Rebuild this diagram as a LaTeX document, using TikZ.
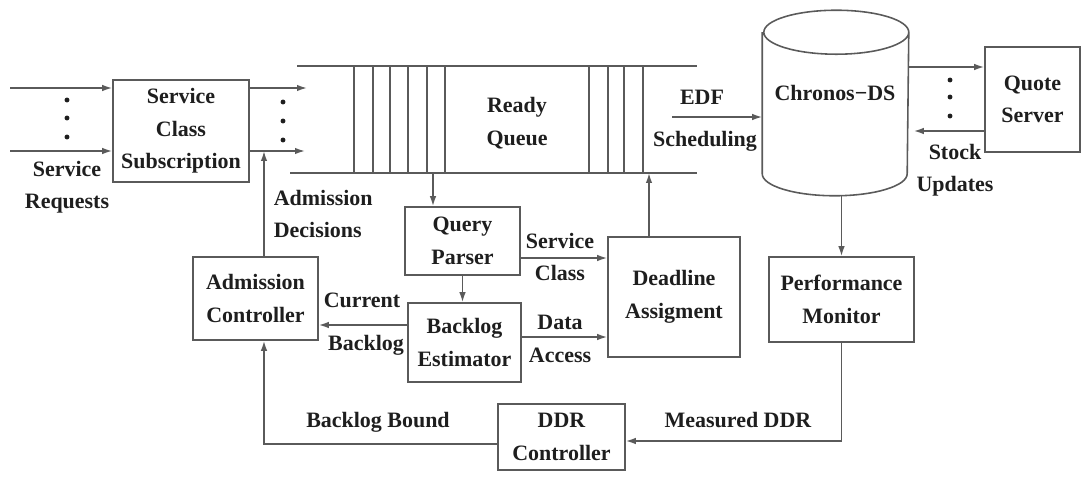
\documentclass[tikz,border=0pt]{standalone}
\usepackage{fontspec}
\setmainfont{Liberation Serif}
\usetikzlibrary{arrows.meta, calc}
\definecolor{cline}{HTML}{5A5A5A}
\definecolor{ctext}{HTML}{1E1E1E}
\tikzset{
  every picture/.style={font=\fontsize{12.5}{18.5}\selectfont\bfseries, line width=0.9pt},
  block/.style={draw=cline, align=center, inner sep=0pt, text=ctext},
  lbl/.style={align=center, inner sep=0pt, text=ctext},
  arrow/.style={-{Latex[length=2mm, width=1.3mm]}, draw=cline},
  wire/.style={draw=cline},
  dot/.style={fill=ctext},
}

\begin{document}
\begin{tikzpicture}[x=0.02cm, y=-0.02cm]
  \useasboundingbox (0,0) rectangle (1086,480);

  % blocks
  \node[block, minimum width=2.72cm, minimum height=2.04cm] (scs) at (181,131) {Service\\Class\\Subscription};
  \node[block, minimum width=2.3cm, minimum height=1.36cm] (qp) at (462.5,241) {Query\\Parser};
  \node[block, minimum width=2.26cm, minimum height=1.58cm] (be) at (464.5,342.5) {Backlog\\Estimator};
  \node[block, minimum width=2.5cm, minimum height=1.66cm] (ac) at (255.5,298.5) {Admission\\Controller};
  \node[block, minimum width=2.64cm, minimum height=2.4cm] (da) at (674,297) {Deadline\\Assigment};
  \node[block, minimum width=2.9cm, minimum height=1.7cm] (pm) at (841.5,299.5) {Performance\\Monitor};
  \node[block, minimum width=2.54cm, minimum height=1.32cm] (ddr) at (561.5,437) {DDR\\Controller};
  \node[block, minimum width=1.9cm, minimum height=2.1cm] (qs) at (1032.5,99.5) {Quote\\Server};

  % database cylinder
  \node[minimum width=2.9cm, minimum height=2.8cm, inner sep=0pt] (db) at (835.5,103) {};
  \draw[wire] (db.north west) -- (db.south west)
    arc[start angle=180, end angle=360, x radius=1.45cm, y radius=0.44cm]
    -- (db.north east)
    arc[start angle=0, end angle=180, x radius=1.45cm, y radius=0.44cm]
    arc[start angle=180, end angle=360, x radius=1.45cm, y radius=0.44cm];
  \node[lbl] (dbl) at (835,93) {Chronos−DS};

  % ready queue
  \coordinate (qtl) at (297,66);
  \coordinate (qbl) at (290,173);
  \coordinate (qr) at (697,0);
  \draw[wire] (qtl) -- (qtl -| qr);
  \draw[wire] (qbl) -- (qbl -| qr);
  \foreach \x in {354,373,390,408,427,445,589,608,624,643}
    \draw[wire] (\x,66) -- (\x,173);
  \node[lbl] (rql) at (517,123) {Ready\\Queue};

  % requests in and out
  \coordinate (r1) at (10,88);
  \coordinate (r2) at (10,151);
  \coordinate (o1) at (307,88);
  \coordinate (o2) at (305,151);
  \draw[arrow] (r1) -- (r1 -| scs.west);
  \draw[arrow] (r2) -- (r2 -| scs.west);
  \draw[arrow] (scs.east |- o1) -- (o1);
  \draw[arrow] (scs.east |- o2) -- (o2);
  \foreach \y in {100,118,137} \fill[dot] (67,\y) circle (1.4pt);
  \foreach \y in {102,121,140} \fill[dot] (283,\y) circle (1.4pt);
  \node[lbl] (srq) at (67,187) {Service\\Requests};

  % admission loop
  \coordinate (adm) at (264,151);
  \draw[arrow] (adm |- ac.north) -- (adm);
  \node[lbl, anchor=west, align=left] (adl) at (273,214) {Admission\\Decisions};
  \coordinate (cbk) at (0,325);
  \draw[arrow] (be.west |- cbk) -- (ac.east |- cbk);
  \node[lbl] (curl) at (362,300) {Current};
  \node[lbl] (bkl) at (366,345) {Backlog};
  \coordinate (bb) at (0,444);
  \draw[arrow] (ddr.west |- bb) -| (adm |- ac.south);
  \node[lbl] (bbl) at (378,422) {Backlog Bound};

  % query path
  \coordinate (qin) at (433,173);
  \draw[arrow] (qin) -- (qin |- qp.north);
  \draw[arrow] (qp.south) -- (qp.south |- be.north);
  \coordinate (sc) at (0,258);
  \draw[arrow] (qp.east |- sc) -- (da.west |- sc);
  \node[lbl] (scl) at (560,257) {Service\\Class};
  \coordinate (dac) at (0,337);
  \draw[arrow] (be.east |- dac) -- (da.west |- dac);
  \node[lbl] (dal) at (560,339) {Data\\Access};
  \coordinate (qout) at (649,173);
  \draw[arrow] (qout |- da.north) -- (qout);

  % scheduling and data
  \coordinate (edf) at (672,117);
  \draw[arrow] (edf) -- (edf -| db.west);
  \node[lbl] (edfl) at (702,97) {EDF};
  \node[lbl] (schl) at (705,141) {Scheduling};
  \coordinate (qa) at (0,67);
  \coordinate (qb) at (0,131);
  \draw[arrow] (db.east |- qa) -- (qs.west |- qa);
  \draw[arrow] (qs.west |- qb) -- ([xshift=0.1cm]db.east |- qb);
  \foreach \y in {80,97,116} \fill[dot] (950,\y) circle (1.4pt);
  \node[lbl] (sul) at (955,170) {Stock\\Updates};

  % ddr loop
  \coordinate (dbb) at ([yshift=-0.44cm]db.south);
  \draw[arrow] (pm.north |- dbb) -- (pm.north);
  \coordinate (md) at (0,441);
  \draw[arrow] (pm.south) |- (ddr.east |- md);
  \node[lbl] (mdl) at (738,420) {Measured DDR};
\end{tikzpicture}
\end{document}
